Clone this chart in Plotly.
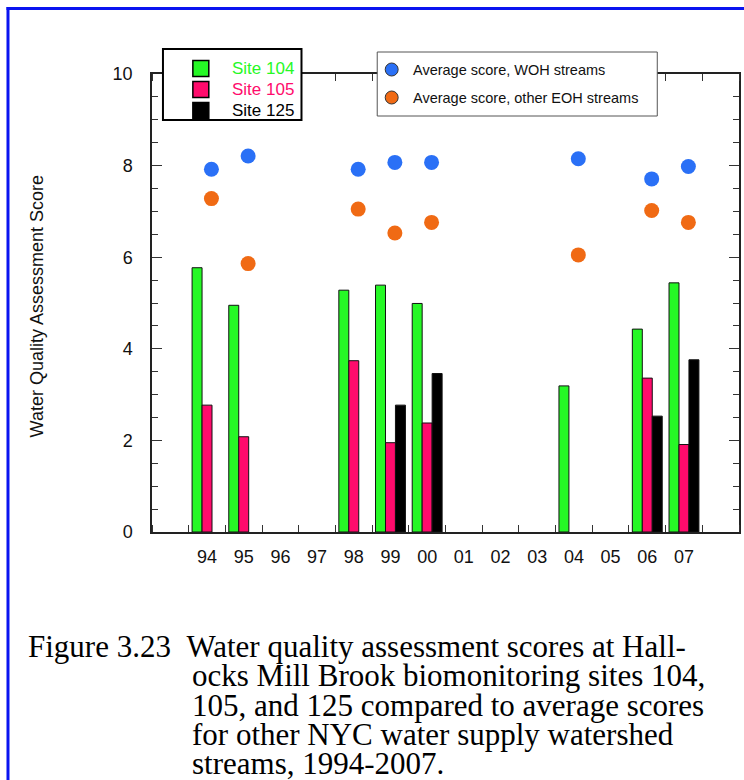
import plotly.graph_objects as go

# Survey years (two-digit labels) and scores
years = ["94", "95", "96", "97", "98", "99", "00", "01", "02", "03", "04", "05", "06", "07"]
site_104 = [5.77, 4.95, None, None, 5.28, 5.39, 4.99, None, None, None, 3.19, None, 4.43, 5.44]
site_105 = [2.77, 2.08, None, None, 3.74, 1.95, 2.38, None, None, None, None, None, 3.36, 1.91]
site_125 = [None, None, None, None, None, 2.77, 3.46, None, None, None, None, None, 2.53, 3.76]
woh_avg = [7.92, 8.21, None, None, 7.92, 8.07, 8.07, None, None, None, 8.15, None, 7.71, 7.98]
eoh_avg = [7.28, 5.86, None, None, 7.05, 6.53, 6.76, None, None, None, 6.05, None, 7.02, 6.76]

GREEN = "#26f826"
PINK = "#ff0b6c"
BLACK = "#000000"
BLUE = "#2a70f6"
ORANGE = "#f06a14"
FONT = "Liberation Sans, Arial, sans-serif"

W, H = 744, 780
L, R, T, B = 152, 3, 74, 248
PW, PH = W - L - R, H - T - B

idx = list(range(len(years)))
dot_x = [i + 0.12 for i in idx]


def px(x):
    return (x - L) / PW


def py(y):
    return (H - B - y) / PH


fig = go.Figure()
bar_line = dict(color="#111111", width=1)
fig.add_trace(go.Bar(x=idx, y=site_104, name="Site 104", marker=dict(color=GREEN, line=bar_line)))
fig.add_trace(go.Bar(x=idx, y=site_105, name="Site 105", marker=dict(color=PINK, line=bar_line)))
fig.add_trace(go.Bar(x=idx, y=site_125, name="Site 125", marker=dict(color=BLACK, line=bar_line)))
fig.add_trace(go.Scatter(x=dot_x, y=woh_avg, mode="markers", name="Average score, WOH streams",
                         marker=dict(color=BLUE, size=15, line=dict(width=0))))
fig.add_trace(go.Scatter(x=dot_x, y=eoh_avg, mode="markers", name="Average score, other EOH streams",
                         marker=dict(color=ORANGE, size=15, line=dict(width=0))))

shapes = []
annotations = []

# Page frame (left and top edges)
shapes.append(dict(type="line", xref="paper", yref="paper", x0=px(7.5), x1=px(7.5), y0=py(7), y1=py(H + 5),
                   line=dict(color="#0a14f0", width=3)))
shapes.append(dict(type="line", xref="paper", yref="paper", x0=px(6), x1=px(W + 5), y0=py(8.5), y1=py(8.5),
                   line=dict(color="#0a14f0", width=3)))

# Site legend box
shapes.append(dict(type="rect", xref="paper", yref="paper", x0=px(163), x1=px(302), y0=py(49), y1=py(120),
                   line=dict(color="#000000", width=2), fillcolor="white", layer="above"))
site_items = [("Site 104", GREEN, 68.5), ("Site 105", PINK, 89.5), ("Site 125", BLACK, 110.5)]
for label, col, yc in site_items:
    shapes.append(dict(type="rect", xref="paper", yref="paper", x0=px(193), x1=px(209),
                       y0=py(yc - 8), y1=py(yc + 8), fillcolor=col,
                       line=dict(color="#000000", width=1.5), layer="above"))
    annotations.append(dict(xref="paper", yref="paper", x=px(230), y=py(yc), text=label, showarrow=False,
                            xanchor="left", yanchor="middle", font=dict(family=FONT, size=17, color=col)))

# Average-score legend box
shapes.append(dict(type="rect", xref="paper", yref="paper", x0=px(378), x1=px(659), y0=py(52), y1=py(116),
                   line=dict(color="#555555", width=1), fillcolor="white", layer="above"))
avg_items = [("Average score, WOH streams", BLUE, 69.5), ("Average score, other EOH streams", ORANGE, 97.5)]
for label, col, yc in avg_items:
    shapes.append(dict(type="circle", xref="paper", yref="paper", x0=px(386), x1=px(399),
                       y0=py(yc - 6.5), y1=py(yc + 6.5), fillcolor=col,
                       line=dict(color="#333333", width=1), layer="above"))
    annotations.append(dict(xref="paper", yref="paper", x=px(412), y=py(yc), text=label, showarrow=False,
                            xanchor="left", yanchor="middle", font=dict(family=FONT, size=14.5, color="#111111")))

# Y-axis title
annotations.append(dict(xref="paper", yref="paper", x=px(37), y=py(306), text="Water Quality Assessment Score",
                        showarrow=False, textangle=-90, xanchor="center", yanchor="middle",
                        font=dict(family=FONT, size=18, color="#111111")))

# Figure caption with hanging indent
SERIF = "Liberation Serif, Times New Roman, serif"
cap_font = dict(family=SERIF, size=31, color="#000000")
caption = [
    (26, "Figure 3.23\u00a0\u00a0Water quality assessment scores at Hall-"),
    (190, "ocks Mill Brook biomonitoring sites 104,"),
    (190, "105, and 125 compared to average scores"),
    (190, "for other NYC water supply watershed"),
    (190, "streams, 1994-2007."),
]
for k, (x0, line) in enumerate(caption):
    annotations.append(dict(xref="paper", yref="paper", x=px(x0), y=py(646 + 29.5 * k), text=line,
                            showarrow=False, xanchor="left", yanchor="middle", font=cap_font))

fig.update_layout(
    width=W, height=H,
    margin=dict(l=L, r=R, t=T, b=B),
    paper_bgcolor="white", plot_bgcolor="white",
    barmode="group", bargap=0.185, bargroupgap=0,
    showlegend=False,
    shapes=shapes, annotations=annotations,
    font=dict(family=FONT, color="#111111"),
)
fig.update_xaxes(
    range=[-1.5, 14.5], tickmode="array", tickvals=idx, ticktext=years,
    ticks="", showgrid=False, zeroline=False,
    showline=True, linecolor="#222222", linewidth=1.5, mirror="ticks",
    tickfont=dict(family=FONT, size=18, color="#111111"), ticklabelstandoff=8,
    minor=dict(tickmode="linear", tick0=0.5, dtick=1, ticks="inside", ticklen=7,
               tickcolor="#333333", tickwidth=1, showgrid=False),
)
fig.update_yaxes(
    range=[0, 10], dtick=2, ticks="inside", ticklen=10, tickcolor="#333333", tickwidth=1,
    showgrid=False, zeroline=False,
    showline=True, linecolor="#222222", linewidth=1.5, mirror="ticks",
    tickfont=dict(family=FONT, size=18, color="#111111"), ticklabelstandoff=14,
    minor=dict(dtick=0.5, ticks="inside", ticklen=6, tickcolor="#333333", tickwidth=1, showgrid=False),
)

fig.write_html("out.html")
